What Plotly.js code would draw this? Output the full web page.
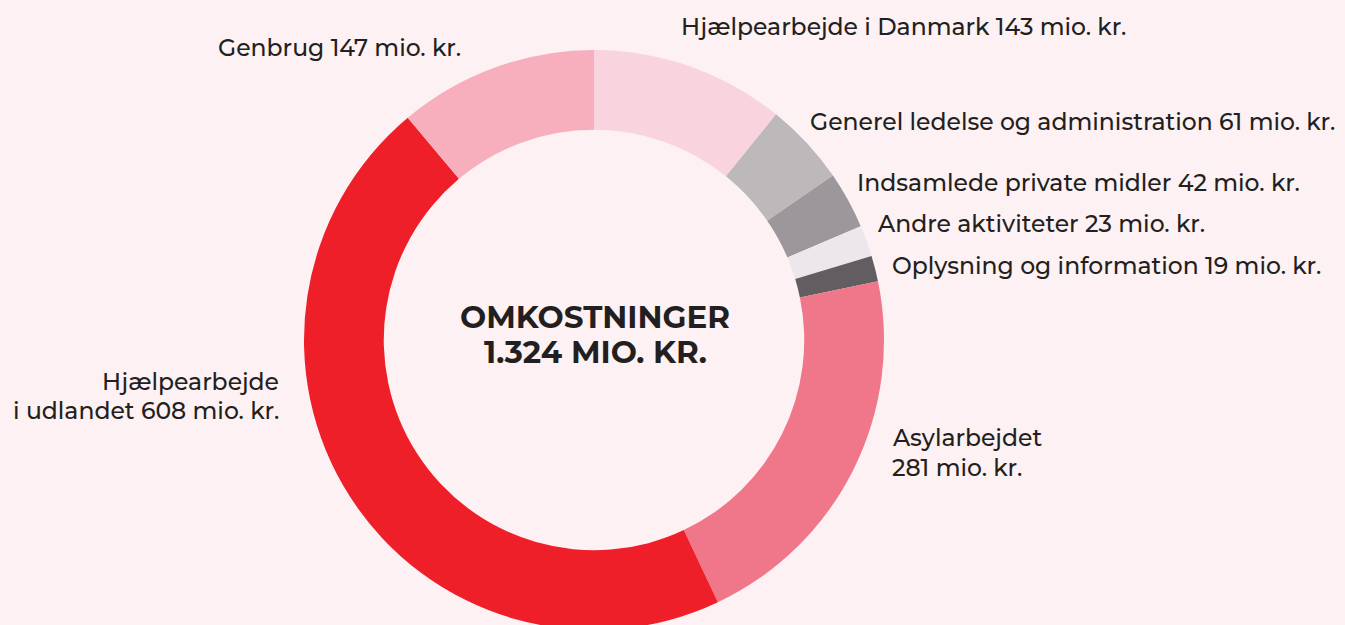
<!DOCTYPE html>
<html>
<head>
<meta charset="utf-8">
<script src="https://cdn.plot.ly/plotly-3.0.1.min.js"></script>
<style>
html,body{margin:0;padding:0;background:#fdf1f3;overflow:hidden;width:1345px;height:625px;}
#chart{width:1345px;height:680px;}
</style>
</head>
<body>
<div id="chart"></div>
<script>
// Data
var categories = [
  "Hjælpearbejde i Danmark",
  "Generel ledelse og administration",
  "Indsamlede private midler",
  "Andre aktiviteter",
  "Oplysning og information",
  "Asylarbejdet",
  "Hjælpearbejde i udlandet",
  "Genbrug"
];
var values = [143, 61, 42, 23, 19, 281, 608, 147];
var unit = "mio. kr.";
var totalLabel = "OMKOSTNINGER";
var totalValueText = "1.324 MIO. KR.";

// Styles
var colors = ["#f9d4df", "#bdb9ba", "#9b979a", "#ebe7ea", "#625d60", "#f07689", "#ee1f28", "#f7aebd"];
var W = 1345, H = 680;
function px(x){ return x / W; }
function py(y){ return 1 - y / H; }

// each label: list of [text, x, y, xanchor]
var lines = [
  [categories[0] + " " + values[0] + " " + unit, 679, 27, "left"],
  [categories[1] + " " + values[1] + " " + unit, 808, 121, "left"],
  [categories[2] + " " + values[2] + " " + unit, 855, 183, "left"],
  [categories[3] + " " + values[3] + " " + unit, 875, 224, "left"],
  [categories[4] + " " + values[4] + " " + unit, 890, 266, "left"],
  [categories[5], 890, 437, "left"],
  [values[5] + " " + unit, 890, 467, "left"],
  ["Hjælpearbejde", 281, 381, "right"],
  ["i udlandet " + values[6] + " " + unit, 281, 410, "right"],
  [categories[7] + " " + values[7] + " " + unit, 216, 48, "left"]
];

var fam = "Montserrat, 'Open Sans', Lato, sans-serif";
var font = {family: fam, size: 23.5, color: "#231f20", weight: 500};

var annotations = lines.map(function(p){
  return {
    text: p[0], x: px(p[1]), y: py(p[2]), xref: "paper", yref: "paper",
    xanchor: p[3], yanchor: "middle", align: p[3], showarrow: false,
    font: font
  };
});
[[totalLabel, 317], [totalValueText, 352]].forEach(function(p){
  annotations.push({
    text: "<b>" + p[0] + "</b>",
    x: px(595), y: py(p[1]), xref: "paper", yref: "paper",
    xanchor: "center", yanchor: "middle", align: "center", showarrow: false,
    font: {family: fam, size: 31, color: "#231f20"}
  });
});

var trace = {
  type: "pie",
  labels: categories,
  values: values,
  hole: 0.725,
  sort: false,
  direction: "clockwise",
  rotation: 0,
  textinfo: "none",
  hoverinfo: "label+value",
  marker: {colors: colors, line: {width: 0}},
  domain: {x: [px(304), px(884)], y: [py(630), py(50)]},
  showlegend: false
};

var layout = {
  width: W, height: H,
  margin: {l: 0, r: 0, t: 0, b: 0},
  paper_bgcolor: "#fdf1f3",
  plot_bgcolor: "#fdf1f3",
  showlegend: false,
  annotations: annotations
};

Plotly.newPlot("chart", [trace], layout, {displayModeBar: false, staticPlot: true});
</script>
</body>
</html>
